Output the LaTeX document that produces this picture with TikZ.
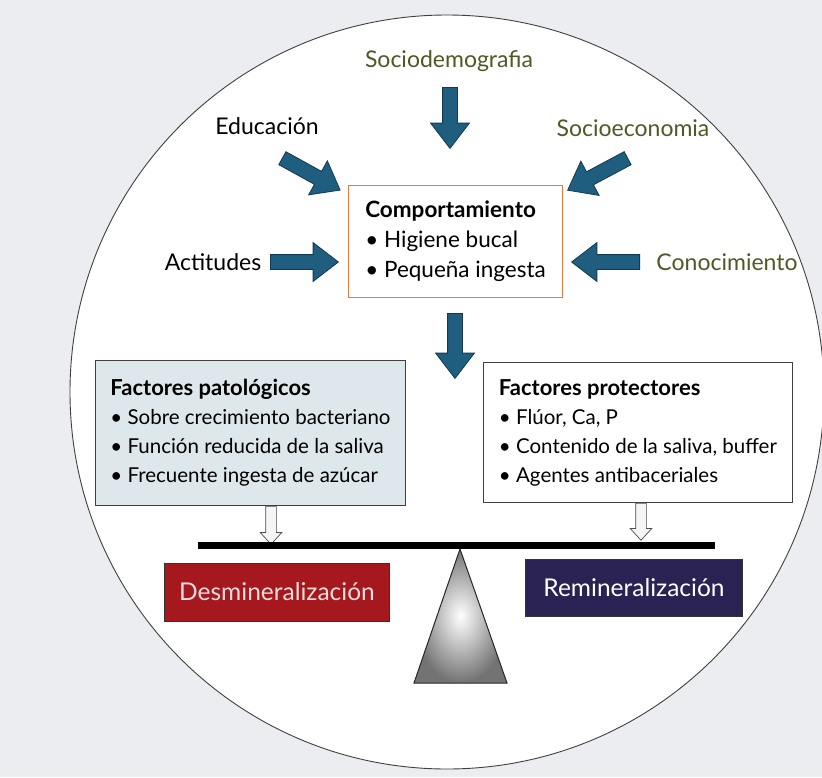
\documentclass[tikz,border=0pt]{standalone}
\usepackage{fontspec}
\setmainfont{Lato}
\usetikzlibrary{shapes.arrows,positioning}
\definecolor{arrowblue}{RGB}{31,94,126}
\definecolor{arrowedge}{RGB}{18,58,80}
\definecolor{olivetext}{RGB}{78,90,38}
\definecolor{compedge}{RGB}{232,122,62}
\definecolor{patfill}{RGB}{222,232,236}
\definecolor{desred}{RGB}{165,24,30}
\definecolor{destext}{RGB}{246,222,222}
\definecolor{remnavy}{RGB}{42,34,82}
\definecolor{bgpaper}{RGB}{236,237,240}
\newcommand{\boxtitle}[1]{{\fontsize{22}{29}\selectfont\textbf{#1}}}
\begin{document}
\begin{tikzpicture}[x=1pt,y=-1pt,
	label text/.style={font=\fontsize{23}{27}\selectfont,anchor=base},
	blockarrow/.style={single arrow,draw=arrowedge,fill=arrowblue,line width=0.8pt,
		inner xsep=0pt,inner ysep=7pt,single arrow head extend=12pt,
		single arrow tip angle=75,minimum height=#1,sloped,allow upside down,anchor=tail},
	hollowarrow/.style={single arrow,draw=black!70,fill=black!4,line width=0.7pt,
		inner xsep=0pt,inner ysep=5pt,single arrow head extend=5.5pt,
		single arrow tip angle=85,minimum height=#1,sloped,allow upside down,anchor=tail},
	factor box/.style={draw=black!75,line width=0.9pt,align=left,anchor=north west,
		font=\fontsize{20.5}{29}\selectfont},
	result box/.style={draw=black!80,line width=0.8pt,font=\fontsize{24.5}{28}\selectfont}
	]
	\useasboundingbox (0,0) rectangle (822,777);
	\fill[bgpaper] (0,0) rectangle (822,777);
	\draw[fill=white,draw=black!75,line width=0.9pt] (447,392) circle[radius=377];
	% outer factors
	\node[label text,text=olivetext] (socdem) at (449,67) {Sociodemografia};
	\node[label text] (edu) at (267,134) {Educación};
	\node[label text,text=olivetext] (socec) at (633,136) {Socioeconomia};
	\node[label text] (acti) at (213,270) {Actitudes};
	\node[label text,text=olivetext] (conoc) at (727,270) {Conocimiento};
	% behaviour
	\node[draw=compedge,line width=1pt,fill=white,anchor=north west,minimum width=214pt,
		minimum height=112pt,align=left,font=\fontsize{22.5}{30}\selectfont] (comp) at (348,185)
		{\textbf{Comportamiento}\\ \textbullet\ Higiene bucal\\ \textbullet\ Pequeña ingesta};
	% factors
	\node[factor box,fill=patfill,minimum width=310pt,minimum height=145pt] (pat) at (95,360)
		{\boxtitle{Factores patológicos}\\ \textbullet\ Sobre crecimiento bacteriano\\
		\textbullet\ Función reducida de la saliva\\ \textbullet\ Frecuente ingesta de azúcar};
	\node[factor box,fill=white,minimum width=309pt,minimum height=140pt] (pro) at (483,362)
		{\boxtitle{Factores protectores}\\ \textbullet\ Flúor, Ca, P\\
		\textbullet\ Contenido de la saliva, buffer\\ \textbullet\ Agentes antibaceriales};
	% results
	\node[result box,fill=desred,text=destext,minimum width=225pt,minimum height=58pt]
		(desmin) at (277,592) {Desmineralización};
	\node[result box,fill=remnavy,text=white,minimum width=217pt,minimum height=57pt]
		(remin) at (634,588) {Remineralización};
	% arrow ends
	\coordinate (socdem-a) at (450,87);
	\coordinate (socdem-b) at (450,148);
	\coordinate (edu-a) at (282,158);
	\coordinate (edu-b) at (340,190);
	\coordinate (socec-a) at (628,158);
	\coordinate (socec-b) at (568,190);
	\coordinate (acti-a) at (270,262);
	\coordinate (acti-b) at (338,262);
	\coordinate (conoc-a) at (640,262);
	\coordinate (conoc-b) at (572,262);
	\coordinate (comp-a) at (455,313);
	\coordinate (comp-b) at (455,378);
	\coordinate (beam-l) at (198,545);
	\coordinate (beam-r) at (715,545);
	\coordinate (pat-b) at (271,543);
	\coordinate (pro-b) at (641,539);
	\path (socdem-a) -- (socdem-b) node[at start,blockarrow=61pt]{};
	\path (edu-a) -- (edu-b) node[at start,blockarrow=66pt]{};
	\path (socec-a) -- (socec-b) node[at start,blockarrow=68pt]{};
	\path (acti-a) -- (acti-b) node[at start,blockarrow=68pt]{};
	\path (conoc-a) -- (conoc-b) node[at start,blockarrow=68pt]{};
	\path (comp-a) -- (comp-b) node[at start,blockarrow=65pt]{};
	\path (pat.south -| pat-b) -- (pat-b) node[at start,hollowarrow=38pt]{};
	\path (pro.south -| pro-b) -- (pro-b) node[at start,hollowarrow=37pt]{};
	% balance
	\draw[line width=7pt] (beam-l) -- (beam-r);
	\coordinate (apex) at (460,549);
	\shade[inner color=white,outer color=black!55,draw=black!85,line width=1pt]
		(apex) -- (507,683) -- (414,683) -- cycle;
\end{tikzpicture}
\end{document}
